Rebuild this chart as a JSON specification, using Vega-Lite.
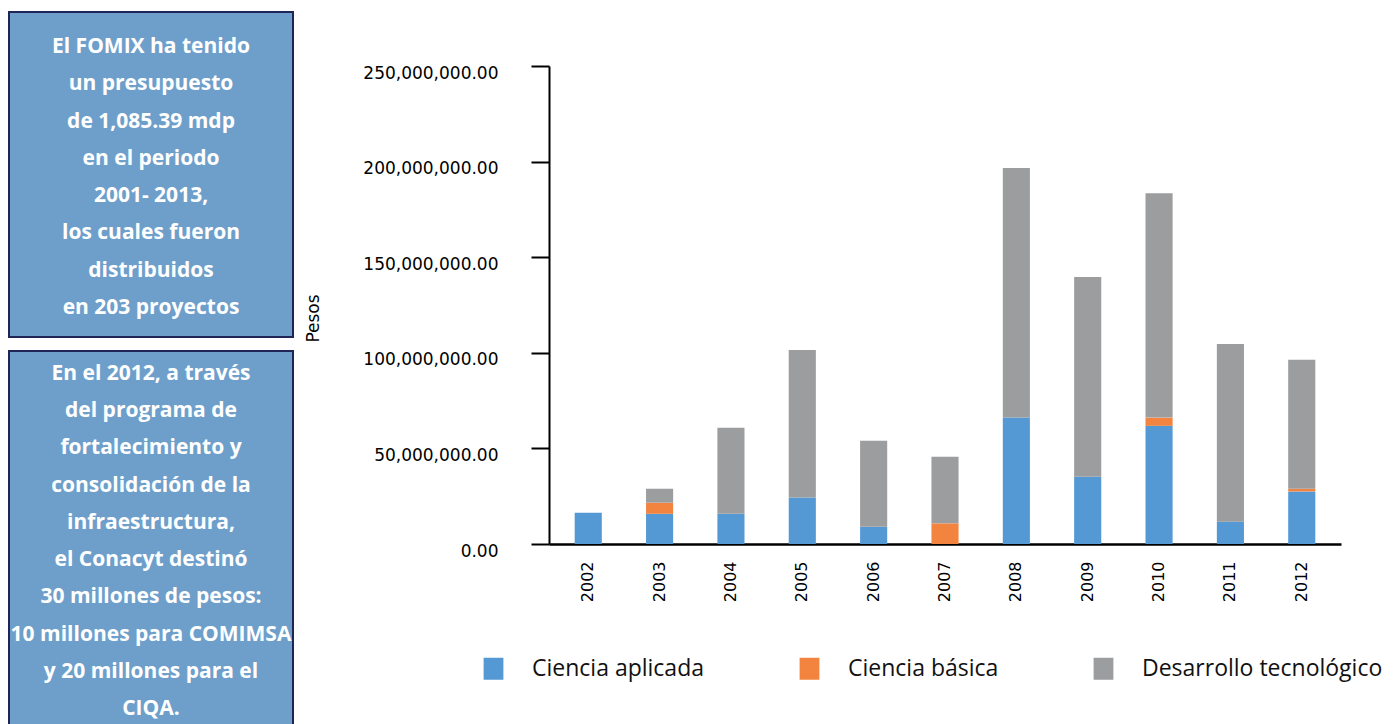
{
  "$schema": "https://vega.github.io/schema/vega-lite/v6.json",
  "padding": {"left": 8, "top": 11, "right": 0, "bottom": 0},
  "background": "white",
  "spacing": 10,
  "datasets": {
    "info1": [
      {"linea": 1, "texto": "El FOMIX ha tenido"},
      {"linea": 2, "texto": "un presupuesto"},
      {"linea": 3, "texto": "de 1,085.39 mdp"},
      {"linea": 4, "texto": "en el periodo"},
      {"linea": 5, "texto": "2001- 2013,"},
      {"linea": 6, "texto": "los cuales fueron"},
      {"linea": 7, "texto": "distribuidos"},
      {"linea": 8, "texto": "en 203 proyectos"}
    ],
    "info2": [
      {"linea": 1, "texto": "En el 2012, a través"},
      {"linea": 2, "texto": "del programa de"},
      {"linea": 3, "texto": "fortalecimiento y"},
      {"linea": 4, "texto": "consolidación de la"},
      {"linea": 5, "texto": "infraestructura,"},
      {"linea": 6, "texto": "el Conacyt destinó"},
      {"linea": 7, "texto": "30 millones de pesos:"},
      {"linea": 8, "texto": "10 millones para COMIMSA"},
      {"linea": 9, "texto": "y 20 millones para el"},
      {"linea": 10, "texto": "CIQA."}
    ],
    "presupuesto": [
      {"anio": "2002", "tipo": "Ciencia aplicada", "pesos": 16400000},
      {"anio": "2003", "tipo": "Ciencia aplicada", "pesos": 15800000},
      {"anio": "2003", "tipo": "Ciencia básica", "pesos": 5800000},
      {"anio": "2003", "tipo": "Desarrollo tecnológico", "pesos": 7300000},
      {"anio": "2004", "tipo": "Ciencia aplicada", "pesos": 15800000},
      {"anio": "2004", "tipo": "Desarrollo tecnológico", "pesos": 45000000},
      {"anio": "2005", "tipo": "Ciencia aplicada", "pesos": 24300000},
      {"anio": "2005", "tipo": "Desarrollo tecnológico", "pesos": 77200000},
      {"anio": "2006", "tipo": "Ciencia aplicada", "pesos": 9000000},
      {"anio": "2006", "tipo": "Desarrollo tecnológico", "pesos": 45000000},
      {"anio": "2007", "tipo": "Ciencia básica", "pesos": 10800000},
      {"anio": "2007", "tipo": "Desarrollo tecnológico", "pesos": 34800000},
      {"anio": "2008", "tipo": "Ciencia aplicada", "pesos": 66100000},
      {"anio": "2008", "tipo": "Desarrollo tecnológico", "pesos": 130500000},
      {"anio": "2009", "tipo": "Ciencia aplicada", "pesos": 35200000},
      {"anio": "2009", "tipo": "Desarrollo tecnológico", "pesos": 104500000},
      {"anio": "2010", "tipo": "Ciencia aplicada", "pesos": 61800000},
      {"anio": "2010", "tipo": "Ciencia básica", "pesos": 4300000},
      {"anio": "2010", "tipo": "Desarrollo tecnológico", "pesos": 117400000},
      {"anio": "2011", "tipo": "Ciencia aplicada", "pesos": 11700000},
      {"anio": "2011", "tipo": "Desarrollo tecnológico", "pesos": 92900000},
      {"anio": "2012", "tipo": "Ciencia aplicada", "pesos": 27500000},
      {"anio": "2012", "tipo": "Ciencia básica", "pesos": 1400000},
      {"anio": "2012", "tipo": "Desarrollo tecnológico", "pesos": 67400000}
    ]
  },
  "hconcat": [
    {
      "spacing": 12,
      "vconcat": [
        {
          "width": 284,
          "height": 325,
          "view": {"fill": "#6e9fcb", "stroke": "#1f2657", "strokeWidth": 2},
          "data": {"name": "info1"},
          "mark": {"type": "text", "font": "Open Sans", "fontWeight": "bold", "fontSize": 21, "color": "#ffffff", "baseline": "middle", "dy": 3},
          "encoding": {
            "y": {"field": "linea", "type": "ordinal", "scale": {"type": "point", "padding": 0.86}, "axis": null},
            "text": {"field": "texto"}
          }
        },
        {
          "width": 284,
          "height": 381,
          "view": {"fill": "#6e9fcb", "stroke": "#1f2657", "strokeWidth": 2},
          "data": {"name": "info2"},
          "mark": {"type": "text", "font": "Open Sans", "fontWeight": "bold", "fontSize": 21, "color": "#ffffff", "baseline": "middle"},
          "encoding": {
            "y": {"field": "linea", "type": "ordinal", "scale": {"type": "point", "padding": 0.62}, "axis": null},
            "text": {"field": "texto"}
          }
        }
      ]
    },
    {
      "width": 792,
      "height": 532,
      "view": {"stroke": null},
      "data": {"name": "presupuesto"},
      "mark": {"type": "bar"},
      "encoding": {
        "x": {
          "field": "anio",
          "type": "ordinal",
          "scale": {"paddingInner": 0.62, "paddingOuter": 0.36},
          "axis": {
            "title": null,
            "labelAngle": -90,
            "labelFont": "DejaVu Sans",
            "labelFontSize": 16,
            "labelColor": "#000000",
            "labelPadding": 17,
            "ticks": false,
            "tickSize": 0,
            "domainColor": "#000000",
            "domainWidth": 2.5
          }
        },
        "y": {
          "field": "pesos",
          "type": "quantitative",
          "stack": "zero",
          "scale": {"domain": [0, 250000000], "range": [532, 54], "nice": false},
          "axis": {
            "values": [0, 50000000, 100000000, 150000000, 200000000, 250000000],
            "format": ",.2f",
            "grid": false,
            "labelFont": "DejaVu Sans",
            "labelFontSize": 17,
            "labelColor": "#000000",
            "labelPadding": 33,
            "labelOffset": 7,
            "tickSize": 18,
            "tickWidth": 2,
            "tickColor": "#000000",
            "domainColor": "#000000",
            "domainWidth": 2,
            "title": "Pesos",
            "titleFont": "DejaVu Sans",
            "titleFontSize": 17,
            "titleFontWeight": "normal",
            "titleColor": "#000000",
            "titleAngle": -90,
            "titleAlign": "center",
            "titleBaseline": "middle",
            "titleX": -236,
            "titleY": 306
          }
        },
        "order": {"field": "tipo", "type": "nominal", "sort": "ascending"},
        "color": {
          "field": "tipo",
          "type": "nominal",
          "scale": {
            "domain": ["Ciencia aplicada", "Ciencia básica", "Desarrollo tecnológico"],
            "range": ["#5499d4", "#f2843f", "#9c9d9f"]
          },
          "legend": {
            "title": null,
            "orient": "none",
            "legendX": 473,
            "legendY": 645,
            "direction": "horizontal",
            "columns": 3,
            "columnPadding": 93,
            "padding": 0,
            "symbolType": "M-0.9,-1H0.9V1H-0.9Z",
            "symbolSize": 484,
            "symbolStrokeWidth": 0,
            "symbolOpacity": 1,
            "labelFont": "Open Sans",
            "labelFontSize": 23,
            "labelColor": "#111111",
            "labelOffset": 27,
            "labelLimit": 400
          }
        }
      }
    }
  ],
  "config": {"view": {"stroke": null}}
}
